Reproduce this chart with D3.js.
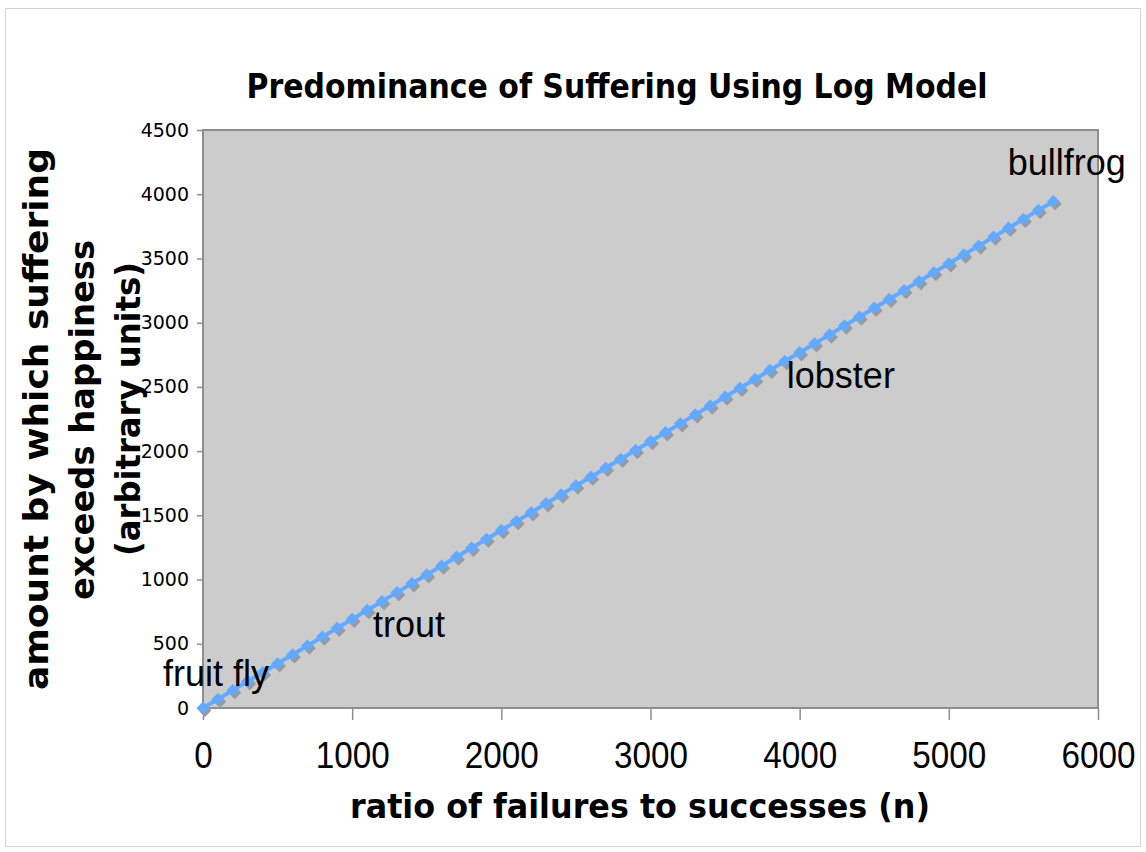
<!DOCTYPE html>
<html>
<head>
<meta charset="utf-8">
<script src="https://cdn.jsdelivr.net/npm/d3@7"></script>
<style>
  html, body { margin: 0; padding: 0; background: #fff; }
  svg { display: block; }
</style>
</head>
<body>
<svg id="chart" width="1146" height="852"></svg>
<script>
// ---- data ----
const ratioN = [0,100,200,300,400,500,600,700,800,900,1000,1100,1200,1300,1400,1500,1600,1700,1800,1900,
  2000,2100,2200,2300,2400,2500,2600,2700,2800,2900,3000,3100,3200,3300,3400,3500,3600,3700,3800,3900,
  4000,4100,4200,4300,4400,4500,4600,4700,4800,4900,5000,5100,5200,5300,5400,5500,5600,5700];
const sufferingExcess = [0,69,138,208,277,346,415,484,554,623,692,761,830,900,969,1038,1107,1176,1246,1315,
  1384,1453,1522,1592,1661,1730,1799,1868,1938,2007,2076,2145,2214,2284,2353,2422,2491,2560,2630,2699,
  2768,2837,2906,2976,3045,3114,3183,3252,3322,3391,3460,3529,3598,3668,3737,3806,3875,3944];
const xTicks = [0,1000,2000,3000,4000,5000,6000];
const yTicks = [0,500,1000,1500,2000,2500,3000,3500,4000,4500];
const animalNames = ["fruit fly","trout","lobster","bullfrog"];
const animalLabelN = [-268,1139,3914,5395];
const animalLabelY = [171,553,2492,4151];
const titleText = "Predominance of Suffering Using Log Model";
const xTitle = "ratio of failures to successes (n)";
const yTitleLines = ["amount by which suffering","exceeds happiness","(arbitrary units)"];

// ---- layout ----
const svg = d3.select("#chart");
const L = 203, R = 1098, T = 130, B = 708;
const x = d3.scaleLinear().domain([0, 6000]).range([L, R]);
const y = d3.scaleLinear().domain([0, 4500]).range([B, T]);

// outer frame
svg.append("rect").attr("x", 5.5).attr("y", 8.5).attr("width", 1135).attr("height", 838)
  .attr("fill", "#fff").attr("stroke", "#d4d4d4").attr("stroke-width", 1);

// plot area
svg.append("rect").attr("x", L).attr("y", T).attr("width", R - L).attr("height", B - T)
  .attr("fill", "#cccccc").attr("stroke", "#8e8e8e").attr("stroke-width", 2);

// axes
const yAxis = d3.axisLeft(y).tickValues(yTicks).tickSize(6).tickPadding(8).tickFormat(d3.format("d"));
const gy = svg.append("g").attr("transform", `translate(${L},0)`).call(yAxis);
gy.select(".domain").remove();
gy.selectAll(".tick line").attr("stroke", "#8e8e8e").attr("stroke-width", 1.5);
gy.selectAll(".tick text").attr("font-family", "DejaVu Sans").attr("font-size", 19).attr("fill", "#000");

const xAxis = d3.axisBottom(x).tickValues(xTicks).tickSize(12).tickPadding(22).tickFormat(d3.format("d"));
const gx = svg.append("g").attr("transform", `translate(0,${B})`).call(xAxis);
gx.select(".domain").remove();
gx.selectAll(".tick line").attr("stroke", "#8e8e8e").attr("stroke-width", 1.5);
gx.selectAll(".tick text").attr("font-family", "Liberation Sans").attr("font-size", 36).attr("fill", "#000")
  .attr("textLength", d => String(d).length * 18.5).attr("lengthAdjust", "spacingAndGlyphs");

// series
const pts = ratioN.map((n, i) => [n, sufferingExcess[i]]);
const line = d3.line().x(d => x(d[0])).y(d => y(d[1]));
const diamond = d3.symbol().type(d3.symbolDiamond2).size(105);

const shadow = svg.append("g").attr("transform", "translate(2,2.5)");
shadow.selectAll("path.m").data(pts).join("path").attr("class", "m")
  .attr("transform", d => `translate(${x(d[0])},${y(d[1])})`).attr("d", diamond).attr("fill", "#9a9a9a");

svg.append("path").datum(pts).attr("d", line).attr("fill", "none")
  .attr("stroke", "#62a9ff").attr("stroke-width", 4);
svg.selectAll("path.mk").data(pts).join("path").attr("class", "mk")
  .attr("transform", d => `translate(${x(d[0])},${y(d[1])})`).attr("d", diamond).attr("fill", "#62a9ff");

// animal labels
svg.selectAll("text.animal").data(animalNames).join("text").attr("class", "animal")
  .attr("x", (d, i) => x(animalLabelN[i])).attr("y", (d, i) => y(animalLabelY[i]))
  .attr("font-family", "Liberation Sans").attr("font-size", 36).attr("fill", "#000")
  .text(d => d);

// title
svg.append("text").attr("x", 617).attr("y", 98).attr("text-anchor", "middle")
  .attr("font-family", "DejaVu Sans").attr("font-weight", "bold").attr("font-size", 33)
  .attr("textLength", 741).attr("lengthAdjust", "spacingAndGlyphs").text(titleText);

// x title
svg.append("text").attr("x", 640).attr("y", 818).attr("text-anchor", "middle")
  .attr("font-family", "DejaVu Sans").attr("font-weight", "bold").attr("font-size", 34)
  .attr("textLength", 580).attr("lengthAdjust", "spacingAndGlyphs").text(xTitle);

// y title
const yLens = [542, 360, 294];
const yBase = [48, 94, 140];
const yCen = [419, 420, 409];
yTitleLines.forEach((s, i) => {
  svg.append("text").attr("transform", `translate(${yBase[i]},${yCen[i]}) rotate(-90)`)
    .attr("text-anchor", "middle")
    .attr("font-family", "DejaVu Sans").attr("font-weight", "bold").attr("font-size", 34)
    .attr("textLength", yLens[i]).attr("lengthAdjust", "spacingAndGlyphs").text(s);
});
</script>
</body>
</html>
